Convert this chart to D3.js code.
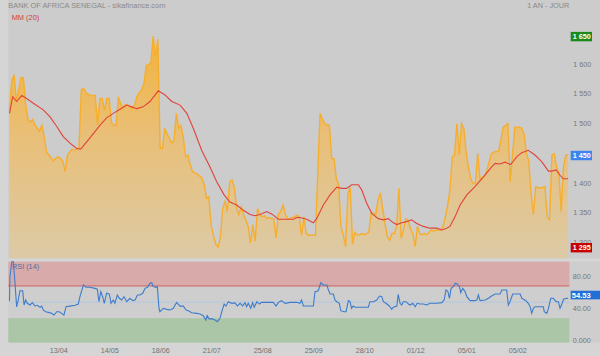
<!DOCTYPE html>
<html><head><meta charset="utf-8">
<script src="https://cdn.jsdelivr.net/npm/d3@7"></script>
<style>html,body{margin:0;padding:0;background:#d5d5d5;}svg{display:block;font-family:"Liberation Sans",Arial,sans-serif;}</style>
</head><body><svg id="c" width="600" height="356"></svg>
<script>
const title = "BANK OF AFRICA SENEGAL - sikafinance.com";
const period = "1 AN - JOUR";
const maLabel = "MM (20)";
const rsiLabel = "RSI (14)";
const closes = [1525,1575,1585,1540,1560,1580,1580,1535,1510,1505,1510,1500,1495,1490,1500,1480,1455,1450,1445,1440,
1445,1447,1444,1440,1422,1450,1455,1460,1458,1460,1462,1560,1562,1555,1552,1550,1550,1550,1500,1545,
1545,1525,1545,1545,1505,1500,1500,1548,1535,1530,1535,1534,1532,1528,1535,1548,1555,1560,1570,1601,
1602,1605,1650,1615,1645,1461,1461,1495,1485,1478,1470,1475,1520,1495,1500,1478,1447,1450,1433,1422,
1420,1418,1415,1411,1400,1377,1380,1332,1315,1300,1295,1312,1360,1372,1355,1405,1408,1395,1360,1350,
1363,1349,1340,1330,1302,1333,1305,1360,1350,1346,1348,1343,1345,1343,1343,1310,1350,1355,1366,1350,
1343,1343,1345,1346,1349,1346,1315,1346,1318,1315,1315,1315,1315,1419,1520,1510,1503,1500,1500,1444,
1444,1410,1400,1330,1315,1296,1385,1395,1300,1320,1315,1316,1318,1316,1318,1320,1352,1352,1350,1375,
1386,1360,1335,1313,1307,1318,1318,1330,1394,1310,1325,1343,1340,1325,1318,1296,1330,1318,1316,1318,
1316,1320,1324,1322,1324,1324,1324,1330,1345,1365,1390,1447,1450,1503,1450,1503,1495,1455,1428,1410,
1402,1402,1453,1408,1413,1415,1425,1440,1453,1455,1456,1456,1475,1497,1500,1503,1405,1450,1497,1497,
1497,1495,1485,1453,1440,1385,1350,1397,1395,1395,1395,1397,1345,1341,1450,1452,1430,1420,1355,1430,
1450,1450];
const maDay = [0,1.4,3.1,5.3,7.4,10.3,14.6,17.5,20.4,23.2,26.1,29,30.7,33.3,36.2,39,42,44.8,47.7,50.6,52.7,54.9,57.7,60.6,64.2,67.1,70,73.6,76.5,79.3,82.9,86.5,89.4,92.6,95.1,98,100.9,103.8,105.9,108.1,111,113.1,116,119.6,122.5,123.9,125.3,128.2,131.1,132.5,135.4,138.3,141.2,143.3,145.5,147.6,150.5,152,154.1,156.3,159.1,161.3,163.4,165.6,167.1,169.2,171.4,173.5,175.7,178.5,181.4,184.3,186.5,188.6,190,192.2,194.4,197.3,200.8,204.4,208,209.5,211.6,213.8,216.2,218.8,221,223.8,226.7,229.6,232.5,233.9,235.8,237.5,238.9,241];
const maValue = [1520,1548,1540,1550,1545,1537,1526,1514,1498,1481,1470,1461,1460,1472,1486,1500,1513,1520,1527,1534,1531,1528,1531,1540,1558,1551,1540,1534,1520,1495,1458,1430,1405,1383,1371,1366,1357,1350,1348,1350,1355,1351,1342,1342,1342,1345,1345,1342,1336,1343,1366,1383,1396,1394,1394,1400,1400,1391,1369,1352,1343,1341,1343,1336,1333,1336,1338,1341,1335,1330,1327,1327,1324,1327,1330,1346,1366,1383,1397,1413,1430,1436,1435,1438,1434,1447,1454,1458,1450,1439,1423,1423,1425,1416,1410,1410];
const rsiDay = [0,0.2,1.0,1.7,2.4,3.1,3.8,4.5,5.7,6.3,7.0,7.7,8.9,9.9,11.0,12.0,13.2,13.9,14.6,15.6,16.8,18.2,19.2,20.4,21.5,22.5,23.5,24.4,26.1,28.3,29.7,30.4,31.9,33.0,34.7,36.9,37.9,38.6,39.4,40.2,40.9,41.9,43.1,43.8,44.8,45.5,46.5,47.4,48.4,49.4,50.6,52.0,53.2,54.2,55.2,56.3,57.5,58.5,59.6,60.6,61.4,61.8,62.4,63.1,63.8,64.5,64.9,66.4,67.8,69.3,70.7,72.1,73.6,75.0,76.2,77.2,78.6,80.8,82.2,83.6,84.7,85.3,86.2,87.2,88.7,89.7,90.8,91.6,92.6,93.4,94.4,95.9,97.3,98.3,99.5,100.6,101.6,102.3,103.0,104.1,104.9,105.6,106.7,107.8,108.8,111.0,113.8,115.0,116.0,117.4,118.9,121.0,123.9,125.3,126.0,126.8,128.2,131.1,131.8,133.2,134.3,135.4,136.9,137.6,138.3,139.7,140.4,141.2,142.3,142.9,144.3,145.2,146.2,146.9,147.6,148.3,149.1,150.5,154.8,155.5,157.0,158.4,159.6,160.6,161.3,162.4,163.9,164.9,165.6,167.1,167.7,168.5,169.2,169.9,171.1,172.1,172.8,174.0,175.0,175.9,177.1,178.5,180.0,181.4,184.3,186.5,187.5,188.3,189.1,189.8,190.5,191.5,192.3,193.2,194.1,194.7,195.5,196.5,197.3,198.7,200.8,201.6,202.3,203.0,205.2,206.6,208.0,209.5,211.6,212.4,214.5,215.2,215.9,217.1,220.3,221.0,222.8,223.8,224.6,225.3,226.0,226.7,230.3,230.7,231.8,232.5,233.5,234.6,235.8,236.8,237.5,238.3,239.0,240.4,241];
const rsiValue = [51.4,81,100,100,73,44,52.6,64,64,46.4,52.6,48.5,46.4,49.3,45.2,46,43.5,45,40.2,38.1,37.3,36.1,34,38.1,38.1,36.1,34,44.3,45,46,47.6,56.7,71.2,68.3,68.3,67,66,50.5,62.9,56.7,48.5,60.9,59.9,48.5,52.6,48.5,58.8,54.7,52.6,56.7,50.5,54.7,51.8,52.6,58.8,58.8,60.9,67,68.3,73.3,74,70,69,68.3,69,42.3,38.1,42.3,41,40.2,42.3,49.7,45,45,40.2,39.4,36.9,36.1,35.3,33.2,27.8,33.2,29,29.5,27.8,25.8,29.9,38.1,47.6,45,50.5,48.5,49,45.2,48.5,45.2,49.3,44.4,48.5,42.3,49.5,43.5,50.5,47.6,49.7,49.7,49.7,45.2,49.7,51.8,48.5,49.7,49.7,48.5,52.6,45.2,45.2,45.2,62.9,64,74,71.2,71.2,65,60,60,52.6,50.5,48.5,39.4,38.1,38.1,51.8,50.5,42.3,45.2,43.7,43.7,43.7,50.5,50.5,52.6,57.5,56.7,50.5,48.5,45.2,41,43.7,45.2,59.6,48.5,46.4,50.5,50.5,47.6,46.4,48.5,44.3,48.5,47.6,47.6,46.4,48.5,48.5,49.3,52.6,65,63.3,54.7,67,69,73.3,72.5,69,61.6,67,63.3,56.7,51.8,51.8,52.6,58.8,51.8,52.6,54.7,57.5,60,60,65,65,46.4,50.5,60,60,54.7,51.8,48.5,44.3,36.1,42.3,44.3,44.3,38.1,36.1,42.3,54.7,54.7,50.5,50.5,42.3,47.6,53.5,54.7,54.53];
const priceTicks = [1300,1350,1400,1500,1550,1600];
const rsiTicks = [80,40,0];
const rsiOverbought = 70, rsiOversold = 30, rsiMid = 50;
const xTickDay = [21,43,65,87,109,131,153,175,197,219];
const xTickLabel = ["13/04","14/05","18/06","21/07","25/08","25/09","28/10","01/12","05/01","05/02"];

// layout
const L = 8.3, R = 569.3, mainBottom = 258.3, rsiTop = 261.7, rsiBottom = 342.5;
const FS = 7.2;
const svg = d3.select("#c");
const x = d3.scaleLinear().domain([-0.5, closes.length - 0.5]).range([L, R]);
const y = d3.scaleLinear().domain([1295, 1650]).range([247.2, 36.1]);
const yr = d3.scaleLinear().domain([0, 100]).range([rsiBottom, rsiTop]);

// panels
svg.append("rect").attr("x", L).attr("y", 0).attr("width", 600 - L).attr("height", mainBottom).attr("fill", "#cccccc");
svg.append("rect").attr("x", L).attr("y", rsiTop).attr("width", 600 - L).attr("height", rsiBottom - rsiTop).attr("fill", "#cecece");

// gradient
const defs = svg.append("defs");
const g = defs.append("linearGradient").attr("id", "gr").attr("gradientUnits", "userSpaceOnUse")
  .attr("x1", 0).attr("x2", 0).attr("y1", y(1650)).attr("y2", mainBottom);
g.append("stop").attr("offset", 0).attr("stop-color", "#f3b33c");
g.append("stop").attr("offset", 0.45).attr("stop-color", "#e9bf78");
g.append("stop").attr("offset", 1).attr("stop-color", "#dccaa6");

const area = d3.area().x((d, i) => x(i)).y0(mainBottom).y1(d => y(d));
svg.append("path").datum(closes).attr("d", area).attr("fill", "url(#gr)");
const line = d3.line().x((d, i) => x(i)).y(d => y(d));
svg.append("path").datum(closes).attr("d", line).attr("fill", "none")
  .attr("stroke", "#f6ae2c").attr("stroke-width", 1.4).attr("stroke-linejoin", "miter");

const maLine = d3.line().x(d => x(d[0])).y(d => y(d[1]));
svg.append("path").datum(maDay.map((d, i) => [d, maValue[i]])).attr("d", maLine)
  .attr("fill", "none").attr("stroke", "#e0433a").attr("stroke-width", 1.1);

// RSI bands
svg.append("rect").attr("x", L).attr("width", R - L).attr("y", yr(100)).attr("height", yr(rsiOverbought) - yr(100)).attr("fill", "#d9aaaa");
svg.append("rect").attr("x", L).attr("width", R - L).attr("y", yr(rsiOversold)).attr("height", yr(0) - yr(rsiOversold)).attr("fill", "#aac6a7");
svg.append("line").attr("x1", L).attr("x2", R).attr("y1", yr(rsiOverbought)).attr("y2", yr(rsiOverbought)).attr("stroke", "#d06262").attr("stroke-width", 1);
svg.append("line").attr("x1", L).attr("x2", R).attr("y1", yr(rsiMid)).attr("y2", yr(rsiMid)).attr("stroke", "#a8c6ea").attr("stroke-width", 0.8);

const rsiLine = d3.line().x(d => x(d[0])).y(d => yr(d[1]));
svg.append("path").datum(rsiDay.map((d, i) => [d, rsiValue[i]])).attr("d", rsiLine)
  .attr("fill", "none").attr("stroke", "#3d7ccc").attr("stroke-width", 1.1);

// texts
svg.append("text").attr("x", L).attr("y", 5).attr("dy", "0.35em").attr("font-size", 7.4).attr("fill", "#8a8a8a").text(title);
svg.append("text").attr("x", R).attr("y", 5).attr("dy", "0.35em").attr("text-anchor", "end").attr("font-size", 7.3).attr("fill", "#8a8a8a").text(period);
svg.append("text").attr("x", 11.7).attr("y", 17.3).attr("dy", "0.35em").attr("font-size", 7.4).attr("fill", "#d93a3a").text(maLabel);
svg.append("text").attr("x", 12).attr("y", 266).attr("dy", "0.35em").attr("font-size", 7.3).attr("fill", "#4d6fa6").text(rsiLabel);

// price axis
const fmtP = d => d3.format(",")(d).replace(",", " ");
const ax = svg.append("g").attr("transform", `translate(${R},0)`)
  .call(d3.axisRight(y).tickValues(priceTicks).tickSize(0).tickPadding(4).tickFormat(fmtP));
ax.select(".domain").remove();
ax.selectAll("text").attr("font-size", FS).attr("fill", "#777").attr("font-family", null).attr("transform", "translate(0,-2)");

const rax = svg.append("g").attr("transform", `translate(${R},0)`)
  .call(d3.axisRight(yr).tickValues(rsiTicks).tickSize(0).tickPadding(3.5).tickFormat(d3.format(".4r")));
rax.select(".domain").remove();
rax.selectAll("text").attr("font-size", FS).attr("fill", "#777").attr("font-family", null).attr("transform", "translate(0,-2)");

const xa = svg.append("g").attr("transform", `translate(0,${rsiBottom})`)
  .call(d3.axisBottom(x).tickValues(xTickDay).tickSize(0).tickPadding(5).tickFormat((d, i) => xTickLabel[i]));
xa.select(".domain").remove();
xa.selectAll("text").attr("font-size", FS).attr("fill", "#707070").attr("font-family", null);

// value boxes
const marks = [
  {v: d3.max(closes), c: "#1b8a1b"},
  {v: closes[closes.length - 1], c: "#3d84ef"},
  {v: d3.min(closes), c: "#c80000"}
];
marks.forEach(m => {
  const cy = y(m.v) + 0.5;
  svg.append("rect").attr("x", R + 1.4).attr("y", cy - 4.7).attr("width", 21.3).attr("height", 9.4).attr("fill", m.c);
  svg.append("text").attr("x", R + 3.5).attr("y", cy).attr("dy", "0.35em").attr("font-size", FS).attr("font-weight", "bold").attr("fill", "#fff").text(fmtP(m.v));
});
const lastR = rsiValue[rsiValue.length - 1];
{
  const cy = yr(lastR) - 3.4;
  svg.append("rect").attr("x", R + 1.4).attr("y", cy - 4.3).attr("width", 29.3).attr("height", 8.6).attr("fill", "#2270d6");
  svg.append("text").attr("x", R + 2.5).attr("y", cy).attr("dy", "0.35em").attr("font-size", 7.6).attr("font-weight", "bold").attr("fill", "#fff").text(d3.format(".2f")(lastR));
}
</script></body></html>
